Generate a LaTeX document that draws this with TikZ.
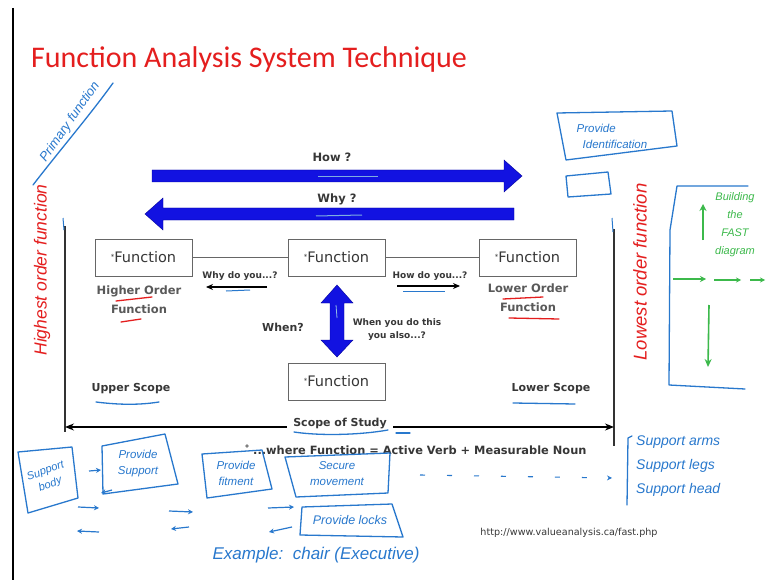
\documentclass[tikz,border=0pt]{standalone}
\usepackage{fontspec}
\setmainfont{DejaVu Sans}
\newfontfamily\titlefont{Carlito}
\newfontfamily\handfont{Liberation Sans}
\usetikzlibrary{arrows.meta}
\definecolor{bigblue}{RGB}{18,18,225}
\definecolor{penblue}{RGB}{40,120,205}
\definecolor{penred}{RGB}{228,30,30}
\definecolor{pengreen}{RGB}{60,185,75}
\definecolor{txtgray}{RGB}{55,55,55}
\tikzset{
  fbox/.style={draw=gray!80!black, line width=0.8pt, minimum width=97pt, minimum height=37pt, inner sep=0pt, font=\fontsize{14.5}{16}\selectfont, text=txtgray},
  lbl/.style={font=\bfseries\fontsize{11}{14}\selectfont, text=txtgray, inner sep=1pt},
  sml/.style={font=\bfseries\fontsize{9}{13}\selectfont, text=txtgray, inner sep=1pt, align=center},
  hand/.style={font=\handfont\itshape\fontsize{11}{12}\selectfont, inner sep=1pt, align=center},
  pen/.style={line width=1.3pt, line cap=round, line join=round},
  thinarr/.style={line width=1.4pt, -{Stealth[length=7pt,width=6pt]}},
}
\begin{document}
\begin{tikzpicture}[x=1pt,y=-1pt]
\useasboundingbox (0,0) rectangle (768,580);
\fill[white] (0,0) rectangle (768,580);
% left frame line
\draw[black, line width=1.2pt] (13,8) -- (13,580);

% title
\node[font=\titlefont\fontsize{30}{32}\selectfont, text=penred, anchor=west, inner sep=0pt] (title) at (31,60) {Function Analysis System Technique};

% How / Why big arrows
\fill[bigblue, draw=blue!60!black, line width=0.4pt] (152,170) -- (504,170) -- (504,160) -- (522,176) -- (504,192) -- (504,182) -- (152,182) -- cycle;
\node[lbl, font=\bfseries\fontsize{11.5}{14}\selectfont] (how) at (332,157) {How ?};
\fill[bigblue, draw=blue!60!black, line width=0.4pt] (514,208) -- (163,208) -- (163,198) -- (145,214) -- (163,230) -- (163,220) -- (514,220) -- cycle;
\node[lbl, font=\bfseries\fontsize{11.5}{14}\selectfont] (why) at (337,199) {Why ?};
\draw[penblue!60, line width=1pt] (318,177) -- (378,177);
\draw[penblue!60, line width=1pt] (316,216) -- (362,215);

% scope verticals
\draw[black!80, line width=1.4pt] (65,226) -- (65,432);
\draw[black!80, line width=1.4pt] (614,229) -- (614,446);
\draw[penblue, line width=1pt] (63,218) -- (64,230);
\draw[penblue, line width=1pt] (612,218) -- (613,232);

% function boxes
\node[fbox] (f1) at (143.5,257.5) {\raisebox{3pt}{\fontsize{7}{7}\selectfont *}Function};
\node[fbox] (f2) at (336.5,257.5) {\raisebox{3pt}{\fontsize{7}{7}\selectfont *}Function};
\node[fbox] (f3) at (527.5,257.5) {\raisebox{3pt}{\fontsize{7}{7}\selectfont *}Function};
\node[fbox] (f4) at (336.5,381.5) {\raisebox{3pt}{\fontsize{7}{7}\selectfont *}Function};
\draw[gray!80!black, line width=0.8pt] (f1) -- (f2);
\draw[gray!80!black, line width=0.8pt] (f2) -- (f3);

% why do you / how do you
\node[sml] (whydo) at (240,276) {Why do you...?};
\coordinate (wa) at (267,287); \coordinate (wb) at (206,287);
\draw[thinarr] (wa) -- (wb);
\draw[penblue, line width=1pt] (226,291) -- (250,290);
\node[sml] (howdo) at (430,276) {How do you...?};
\coordinate (ha) at (397,286); \coordinate (hb) at (460,286);
\draw[thinarr] (ha) -- (hb);
\draw[penblue, line width=1pt] (403,291) -- (445,291);

% order labels
\node[lbl, align=center, font=\bfseries\fontsize{11.5}{19}\selectfont, text=black!65] (hof) at (139,300) {Higher Order\\Function};
\draw[penred, pen] (116,301) -- (152,297);
\draw[penred, pen] (121,322) -- (141,319);
\node[lbl, align=center, font=\bfseries\fontsize{11.5}{19}\selectfont, text=black!65] (lof) at (528,298) {Lower Order\\Function};
\draw[penred, pen] (503,299) -- (543,297);
\draw[penred, pen] (509,318) -- (559,319);

% vertical double arrow
\fill[bigblue, draw=blue!60!black, line width=0.4pt] (337,285) -- (353,303) -- (344,303) -- (344,340) -- (353,340) -- (337,357) -- (321,340) -- (330,340) -- (330,303) -- (321,303) -- cycle;
\draw[penblue!50, line width=0.8pt] (336,305) -- (337,318);
\node[lbl] (when) at (283,327) {When?};
\node[sml] (whenyou) at (397,330) {When you do this\\you also...?};

% scopes
\node[lbl] (upper) at (131,389) {Upper Scope};
\draw[penblue, pen] (96,402) .. controls (120,405) and (140,405) .. (159,402);
\node[lbl] (lower) at (551,389) {Lower Scope};
\draw[penblue, pen] (513,403) -- (575,404);

% scope of study
\draw[black, line width=1.3pt, {Stealth[length=9pt,width=7pt]}-{Stealth[length=9pt,width=7pt]}] (65,427) -- (614,427);
\node[lbl, fill=white, inner xsep=6pt] (sos) at (340,424) {Scope of Study};
\draw[penblue, pen] (294,432) .. controls (320,436) and (360,435) .. (388,430);
\draw[penblue, pen] (396,433) -- (410,433);

% where function
\fill[gray] (247,446) circle (1.8pt);
\node[lbl, anchor=west, font=\bfseries\fontsize{11.4}{14}\selectfont] (where) at (252,450) {...where Function = Active Verb + Measurable Noun};

% url
\node[font=\fontsize{9.6}{11}\selectfont, text=txtgray] (url) at (569,533) {http://www.valueanalysis.ca/fast.php};

% ---- hand annotations left
\node[hand, text=penblue, rotate=55, font=\handfont\itshape\fontsize{13}{13}\selectfont] (primary) at (70,122) {Primary function};
\draw[penblue, pen] (33,185) .. controls (60,150) and (90,115) .. (113,83);
\node[hand, text=penred, rotate=90, font=\handfont\itshape\fontsize{17.5}{18}\selectfont] (highest) at (42,270) {Highest order function};

% ---- hand annotations right
\draw[penblue, pen] (557,113) -- (672,111) -- (677,146) -- (566,160) -- cycle;
\node[hand, text=penblue, align=left, font=\handfont\itshape\fontsize{11.5}{16}\selectfont] (provid) at (612,136) {Provide\\\hspace*{6pt}Identification};
\draw[penblue, pen] (566,176) -- (608,172) -- (611,194) -- (568,197) -- cycle;
\node[hand, text=penred, rotate=90, font=\handfont\itshape\fontsize{18.5}{19}\selectfont] (lowest) at (640,272) {Lowest order function};
\draw[penblue, pen] (748,186) -- (677,186) -- (670,230) -- (669,385) -- (745,389);
\node[hand, text=pengreen, font=\handfont\itshape\fontsize{11}{18}\selectfont] (build) at (735,225) {Building\\the\\FAST\\diagram};
\coordinate (gu1) at (703,240); \coordinate (gu2) at (703,204);
\draw[pengreen, line width=1.6pt, -{Stealth[length=7pt,width=7pt]}] (gu1) -- (gu2);
\coordinate (gr1) at (673,279); \coordinate (gr2) at (706,279);
\coordinate (gr3) at (714,280); \coordinate (gr4) at (741,280);
\coordinate (gr5) at (750,280); \coordinate (gr6) at (765,280);
\draw[pengreen, line width=1.4pt, -{Stealth[length=6pt,width=6pt]}] (gr1) -- (gr2);
\draw[pengreen, line width=1.2pt, -{Stealth[length=5pt,width=5pt]}] (gr3) -- (gr4);
\draw[pengreen, line width=1.2pt, -{Stealth[length=5pt,width=5pt]}] (gr5) -- (gr6);
\coordinate (gd1) at (709,305); \coordinate (gd2) at (708,367);
\draw[pengreen, line width=1.6pt, -{Stealth[length=8pt,width=7pt]}] (gd1) -- (gd2);

% ---- bottom examples
\draw[penblue, pen] (18,452) -- (72,447) -- (78,498) -- (28,513) -- cycle;
\node[hand, text=penblue, rotate=20, font=\handfont\itshape\fontsize{11}{14}\selectfont] (sbody) at (48,478) {Support\\body};
\draw[penblue, pen] (102,446) -- (165,434) -- (178,484) -- (103,494) -- cycle;
\node[hand, text=penblue, font=\handfont\itshape\fontsize{11.5}{16}\selectfont] (psup) at (138,464) {Provide\\Support};
\draw[penblue, pen] (202,454) -- (262,450) -- (272,489) -- (207,498) -- cycle;
\node[hand, text=penblue, font=\handfont\itshape\fontsize{11.5}{16}\selectfont] (pfit) at (236,473) {Provide\\fitment};
\draw[penblue, pen] (285,457) -- (390,453) -- (388,493) -- (296,497) -- cycle;
\node[hand, text=penblue, font=\handfont\itshape\fontsize{11.5}{16}\selectfont] (smov) at (337,474) {Secure\\movement};
\draw[penblue, pen] (302,507) -- (392,504) -- (403,537) -- (300,535) -- cycle;
\node[hand, text=penblue, font=\handfont\itshape\fontsize{12.5}{14}\selectfont] (plock) at (350,520) {Provide locks};
\tikzset{barr/.style={penblue, line width=1.2pt, -{Stealth[length=5pt,width=5pt]}}}
\coordinate (b1) at (89,471); \coordinate (b2) at (101,470);
\draw[barr] (b1) -- (b2);
\coordinate (b3) at (112,490); \coordinate (b4) at (101,493);
\draw[barr] (b3) -- (b4);
\coordinate (b5) at (78,507); \coordinate (b6) at (99,508);
\draw[barr] (b5) -- (b6);
\coordinate (b7) at (99,532); \coordinate (b8) at (77,531);
\draw[barr] (b7) -- (b8);
\coordinate (b9) at (169,511); \coordinate (b10) at (193,512);
\draw[barr] (b9) -- (b10);
\coordinate (b11) at (189,527); \coordinate (b12) at (171,529);
\draw[barr] (b11) -- (b12);
\coordinate (b13) at (268,508); \coordinate (b14) at (294,507);
\draw[barr] (b13) -- (b14);
\coordinate (b15) at (292,527); \coordinate (b16) at (269,532);
\draw[barr] (b15) -- (b16);
\node[hand, text=penblue, font=\handfont\itshape\fontsize{17}{18}\selectfont] (example) at (316,555) {Example:\ \ chair (Executive)};

% dashed arrow and support list
\coordinate (d1) at (420,475); \coordinate (d2) at (612,478);
\draw[penblue, line width=1.1pt, dash pattern=on 5pt off 22pt, -{Stealth[length=5pt,width=5pt]}] (d1) -- (d2);
\draw[penblue, pen] (632,436) -- (628,438) -- (627,505);
\node[hand, text=penblue, align=left, anchor=west, font=\handfont\itshape\fontsize{14}{24}\selectfont] (supl) at (635,466) {Support arms\\Support legs\\Support head};
\end{tikzpicture}
\end{document}
